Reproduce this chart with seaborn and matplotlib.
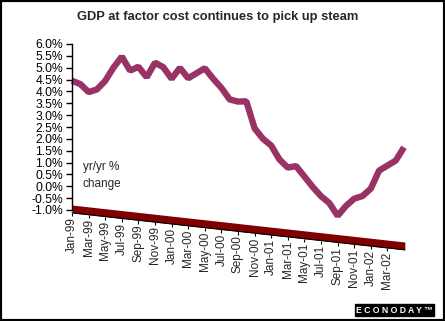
import numpy as np
import pandas as pd
import matplotlib
matplotlib.use("Agg")
import matplotlib.pyplot as plt
import seaborn as sns
from matplotlib.transforms import Affine2D
from matplotlib.patches import Rectangle

# ---- data -------------------------------------------------------------
months = ["Jan-99", "Feb-99", "Mar-99", "Apr-99", "May-99", "Jun-99", "Jul-99",
          "Aug-99", "Sep-99", "Oct-99", "Nov-99", "Dec-99", "Jan-00", "Feb-00",
          "Mar-00", "Apr-00", "May-00", "Jun-00", "Jul-00", "Aug-00", "Sep-00",
          "Oct-00", "Nov-00", "Dec-00", "Jan-01", "Feb-01", "Mar-01", "Apr-01",
          "May-01", "Jun-01", "Jul-01", "Aug-01", "Sep-01", "Oct-01", "Nov-01",
          "Dec-01", "Jan-02", "Feb-02", "Mar-02", "Apr-02", "May-02"]
gdp_yoy = [4.45, 4.35, 4.05, 4.2, 4.6, 5.2, 5.7, 5.15, 5.35, 4.95, 5.6, 5.45,
           5.0, 5.5, 5.1, 5.35, 5.6, 5.2, 4.85, 4.4, 4.35, 4.4, 3.3, 2.9,
           2.65, 2.1, 1.8, 1.9, 1.5, 1.1, 0.75, 0.5, 0.0, 0.45, 0.8, 0.95,
           1.3, 2.1, 2.35, 2.6, 3.2]
tick_labels = ["Jan-99", "Mar-99", "May-99", "Jul-99", "Sep-99", "Nov-99",
               "Jan-00", "Mar-00", "May-00", "Jul-00", "Sep-00", "Nov-00",
               "Jan-01", "Mar-01", "May-01", "Jul-01", "Sep-01", "Nov-01",
               "Jan-02", "Mar-02"]
y_ticks = [-1.0, -0.5, 0.0, 0.5, 1.0, 1.5, 2.0, 2.5, 3.0, 3.5, 4.0, 4.5,
           5.0, 5.5, 6.0]
title = "GDP at factor cost continues to pick up steam"

df = pd.DataFrame({"month": months, "value": gdp_yoy})
df["pos"] = np.arange(len(df))
tick_pos = [months.index(m) for m in tick_labels]

# ---- style ------------------------------------------------------------
sns.set_style("white")
plt.rcParams["font.family"] = ["Liberation Sans", "DejaVu Sans"]

W, H = 445, 321
fig = plt.figure(figsize=(W / 100, H / 100), dpi=100)
ax = fig.add_axes([72 / W, 1 - 210 / H, (404 - 72) / W, (210 - 44) / H])
ax.set_xlim(0, len(months) - 1)
ax.set_ylim(-1, 6)

# perspective-like shear of the floor (drops to the right)
x0, y0 = ax.transAxes.transform((0, 0))
shear = (Affine2D().translate(-x0, -y0)
         .skew(0, np.arctan(-37 / 333))
         .translate(x0, y0))
shear_t = ax.transData + shear

# floor band
floor = ax.fill_between([0, len(months) - 0.9], -1.12, -0.79,
                        color="#800000", linewidth=0)
floor.set_transform(shear_t)
floor.set_clip_on(False)
base = ax.plot([0, len(months) - 0.9], [-1.12, -1.12], color="black", lw=0.8)[0]
base.set_transform(shear_t)
base.set_clip_on(False)
tk = ax.vlines(tick_pos, -1.26, -1.12, colors="black", lw=0.8)
tk.set_transform(shear_t)
tk.set_clip_on(False)

# data line
sns.lineplot(data=df, x="pos", y="value", ax=ax, color="#993366",
             linewidth=4.6, legend=False)
line = ax.lines[-1]
line.set_transform(shear_t)
line.set_clip_on(False)
line.set_solid_joinstyle("bevel")
line.set_solid_capstyle("butt")

# category labels along the sheared floor
for p, lab in zip(tick_pos, tick_labels):
    ax.text(p, -1.3, lab, rotation=90, ha="center", va="top",
            fontsize=8.5, transform=shear_t, clip_on=False)

# axes styling
ax.set_xticks([])
ax.set_yticks(y_ticks)
ax.set_yticklabels([f"{v:.1f}%" for v in y_ticks], fontsize=8.7)
ax.tick_params(axis="y", direction="out", length=4, width=1, pad=2.5,
               colors="black", left=True)
for s in ["top", "right", "bottom"]:
    ax.spines[s].set_visible(False)
ax.spines["left"].set_color("black")
ax.spines["left"].set_linewidth(1)
ax.set_xlabel("")
ax.set_ylabel("")
ax.patch.set_alpha(0)

ax.text(3.55, 0.45, "yr/yr %\nchange", ha="center", va="center",
        multialignment="center", fontsize=8.5, linespacing=1.5)

fig.text(0.488, 0.947, title, ha="center", va="center", fontsize=9.3,
         fontweight="bold")
fig.text(0.8865, 0.034, "E C O N O D A Y \u2122", ha="center", va="center",
         fontsize=6.2, fontweight="bold", color="white",
         bbox=dict(facecolor="black", edgecolor="black", pad=1.0))

fig.patches.append(Rectangle((0, 0), 1, 1, transform=fig.transFigure,
                             fill=False, edgecolor="black", lw=3))

fig.savefig("out.png", dpi=100)
